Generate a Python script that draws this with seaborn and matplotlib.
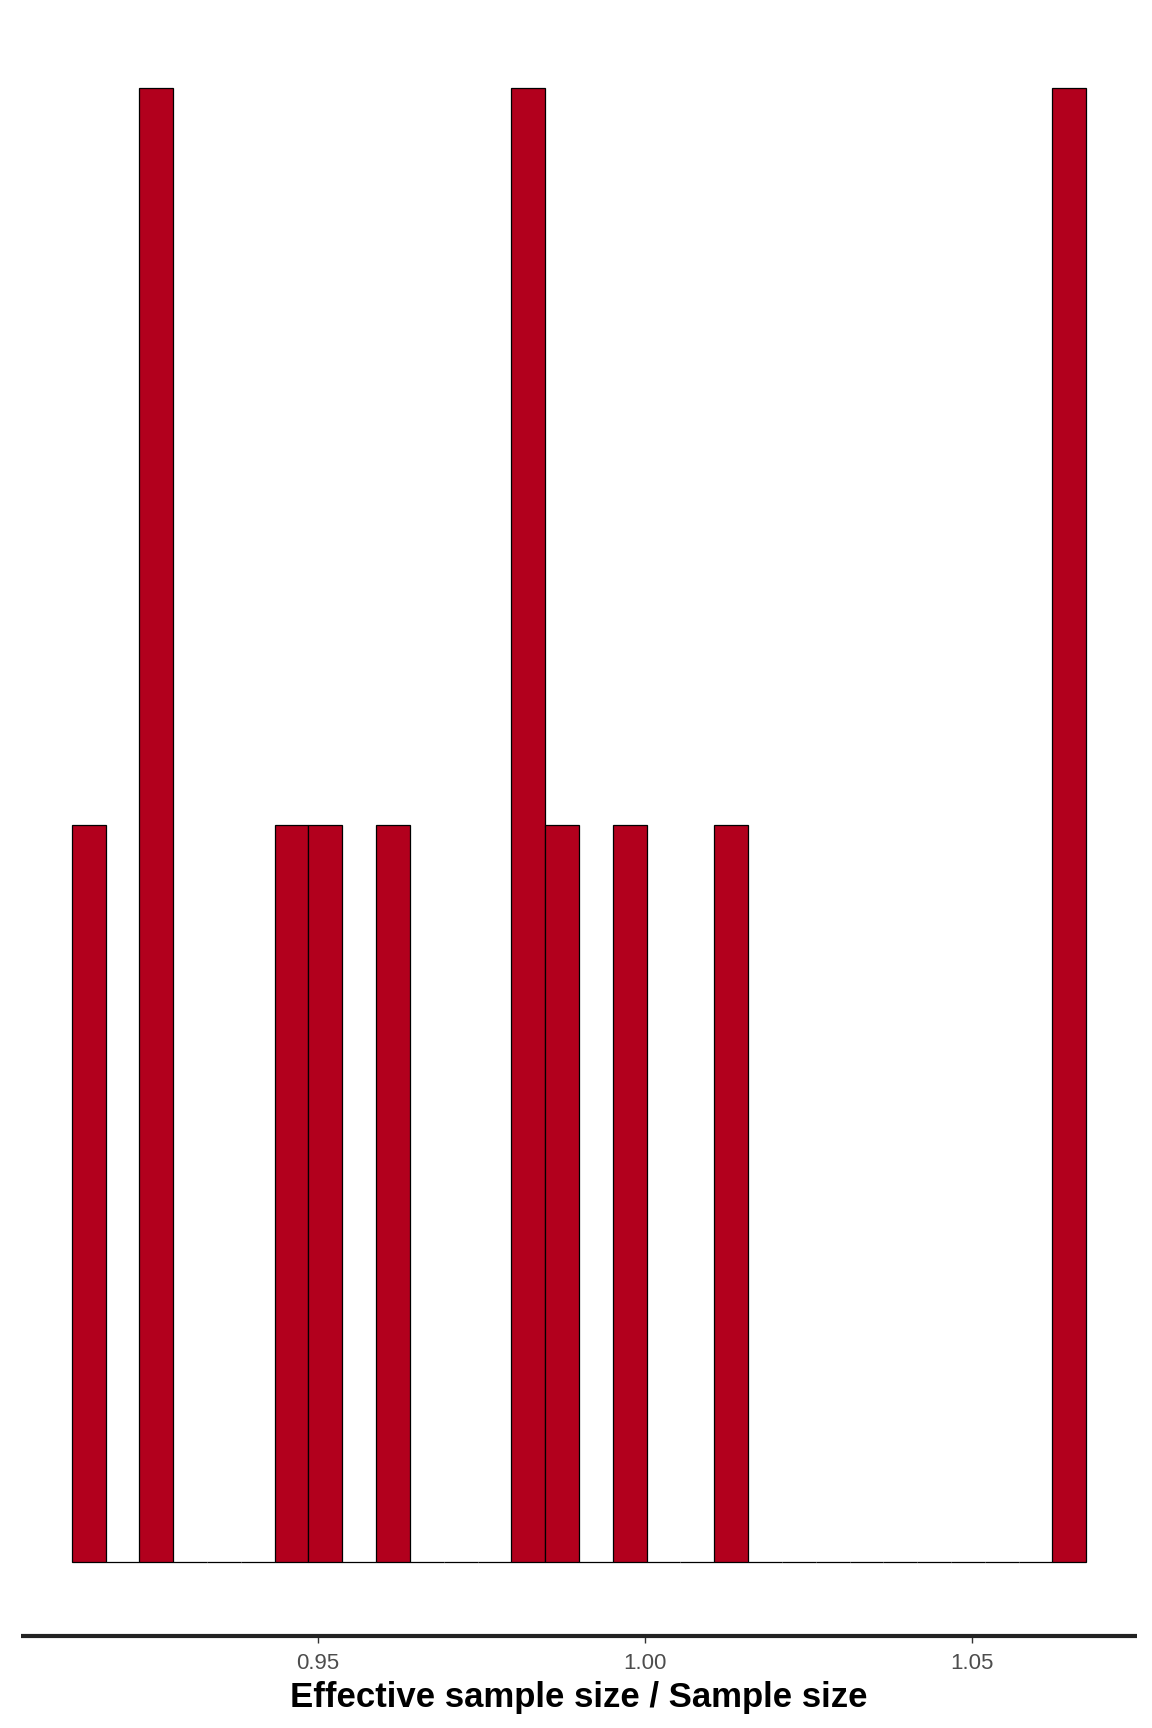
import numpy as np
import pandas as pd
import matplotlib
matplotlib.use("Agg")
import matplotlib.pyplot as plt
import seaborn as sns

# Effective sample size ratios (n_eff / N)
ratios = [0.9150, 0.9248, 0.9259, 0.9455, 0.9515, 0.9612, 0.9818,
          0.9826, 0.9870, 0.9980, 1.0135, 1.0640, 1.0649]
x_ticks = [0.95, 1.00, 1.05]
x_tick_labels = ["0.95", "1.00", "1.05"]
x_label = "Effective sample size / Sample size"
n_bins = 30

sns.set_theme(style="white")
plt.rcParams['font.family'] = ['Liberation Sans', 'DejaVu Sans']

df = pd.DataFrame({"ratio": ratios})

fig = plt.figure(figsize=(11.52, 17.28), dpi=100)
ax = fig.add_axes([21 / 1152, (1728 - 1636) / 1728, 1116 / 1152, 1622 / 1728])

# ggplot-style binning: first/last bins centred on min/max
lo, hi = min(ratios), max(ratios)
bw = (hi - lo) / (n_bins - 1)
brange = (lo - bw / 2, hi + bw / 2)

sns.histplot(data=df, x="ratio", bins=n_bins, binrange=brange, ax=ax,
             color="#b2001d", edgecolor="black", linewidth=0.9, alpha=1.0)

span = brange[1] - brange[0]
ax.set_xlim(brange[0] - 0.05 * span, brange[1] + 0.05 * span)
ax.set_ylim(-0.1, 2.1)

for s in ["top", "right", "left"]:
    ax.spines[s].set_visible(False)
ax.spines["bottom"].set_color("#222222")
ax.spines["bottom"].set_linewidth(3.0)
ax.spines["bottom"].set_capstyle("butt")

ax.set_yticks([])
ax.set_ylabel("")
ax.set_xticks(x_ticks)
ax.set_xticklabels(x_tick_labels)
ax.tick_params(axis="x", bottom=True, length=5, width=1, color="#333333",
               labelsize=16, labelcolor="#4d4d4d", pad=7, direction="out")
ax.set_xlabel(x_label, fontsize=25, fontweight="bold", color="black", labelpad=5)
ax.grid(False)

fig.savefig("out.png", dpi=100)
